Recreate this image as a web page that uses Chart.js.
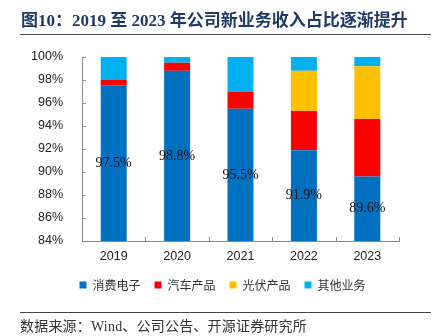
<!DOCTYPE html>
<html>
<head>
<meta charset="utf-8">
<script src="https://cdn.jsdelivr.net/npm/chart.js@4"></script>
<style>
    body { margin: 0; background: #fff; }
    #wrap { position: relative; width: 435px; height: 336px; overflow: hidden; }
    #chart { position: absolute; left: 0; top: 0; }
    .title {
        position: absolute; left: 21px; top: 6px;
        font-family: "Liberation Serif", "Noto Sans CJK SC", serif;
        font-weight: bold; font-size: 17px; color: #1f3a68; white-space: nowrap;
    }
    .rule { position: absolute; left: 20px; width: 411px; height: 1px; background: #444; }
    .source {
        position: absolute; left: 20px; top: 315px;
        font-family: "Liberation Serif", "Noto Sans CJK SC", serif;
        font-size: 14px; letter-spacing: 0.2px; color: #333; white-space: nowrap;
    }
</style>
</head>
<body>
<div id="wrap">
    <canvas id="chart" width="435" height="336"></canvas>
    <div class="title">图10：2019 至 2023 年公司新业务收入占比逐渐提升</div>
    <div class="rule" style="top: 34px;"></div>
    <div class="rule" style="top: 312px;"></div>
    <div class="source">数据来源：Wind、公司公告、开源证券研究所</div>
</div>
<script>
const years = ['2019', '2020', '2021', '2022', '2023'];
const consumerElectronics = [97.5, 98.8, 95.5, 91.9, 89.6];
const autoProducts = [0.5, 0.7, 1.5, 3.4, 5.0];
const pvProducts = [0, 0, 0, 3.5, 4.6];
const otherBusiness = [2.0, 0.5, 3.0, 1.2, 0.8];
const yTicks = [84, 86, 88, 90, 92, 94, 96, 98, 100];

// value labels in the middle of the visible blue segment, plus inward axis ticks
const overlayPlugin = {
    id: 'overlay',
    beforeDraw(chart) {
        // the legend in the reference sits a little right of the canvas centre
        if (!chart.$legendShifted) {
            chart.legend.left += 23;
            chart.legend.right += 23;
            chart.$legendShifted = true;
        }
    },
    afterDraw(chart) {
        const ctx = chart.ctx;
        const meta = chart.getDatasetMeta(0);
        const xScale = chart.scales.x;
        const yScale = chart.scales.y;
        ctx.save();
        ctx.font = '14px "Liberation Serif", serif';
        ctx.fillStyle = '#111';
        ctx.textAlign = 'center';
        ctx.textBaseline = 'middle';
        meta.data.forEach((bar, i) => {
            const cy = (bar.y + yScale.bottom) / 2;
            ctx.fillText(consumerElectronics[i].toFixed(1) + '%', bar.x, cy);
        });

        ctx.strokeStyle = '#8c8c8c';
        ctx.lineWidth = 1;
        ctx.beginPath();
        yTicks.forEach(v => {
            const py = Math.round(yScale.getPixelForValue(v)) + 0.5;
            ctx.moveTo(xScale.left, py);
            ctx.lineTo(xScale.left + 4, py);
        });
        for (let i = 0; i <= years.length; i++) {
            const px = Math.round(xScale.left + (xScale.right - xScale.left) * i / years.length) + 0.5;
            ctx.moveTo(px, yScale.bottom);
            ctx.lineTo(px, yScale.bottom - 4);
        }
        ctx.stroke();
        ctx.restore();
    }
};

new Chart(document.getElementById('chart'), {
    type: 'bar',
    data: {
        labels: years,
        datasets: [
            { label: '消费电子', data: consumerElectronics, backgroundColor: '#0070c0' },
            { label: '汽车产品', data: autoProducts, backgroundColor: '#ff0000' },
            { label: '光伏产品', data: pvProducts, backgroundColor: '#ffc000' },
            { label: '其他业务', data: otherBusiness, backgroundColor: '#00b0f0' }
        ]
    },
    options: {
        responsive: false,
        animation: false,
        layout: { padding: { left: 0, right: 36, top: 57, bottom: 35 } },
        datasets: { bar: { categoryPercentage: 1, barPercentage: 0.41, borderWidth: 0 } },
        plugins: {
            legend: {
                position: 'bottom',
                labels: {
                    boxWidth: 7, boxHeight: 7, padding: 14,
                    color: '#333',
                    font: { family: '"Noto Sans CJK SC"', size: 12 }
                }
            },
            tooltip: { enabled: false }
        },
        scales: {
            x: {
                stacked: true,
                afterFit(scale) { scale.height = 24; },
                grid: { display: false },
                border: { color: '#8c8c8c' },
                ticks: { color: '#222', padding: 0, font: { family: '"Liberation Sans"', size: 12.5 } }
            },
            y: {
                stacked: true,
                min: 84,
                max: 100,
                afterFit(scale) { scale.width = 82; },
                grid: { display: false },
                border: { color: '#8c8c8c' },
                ticks: {
                    stepSize: 2,
                    padding: 11,
                    color: '#222',
                    font: { family: '"Liberation Sans"', size: 12.5 },
                    callback: v => v + '%'
                }
            }
        }
    },
    plugins: [overlayPlugin]
});
</script>
</body>
</html>
